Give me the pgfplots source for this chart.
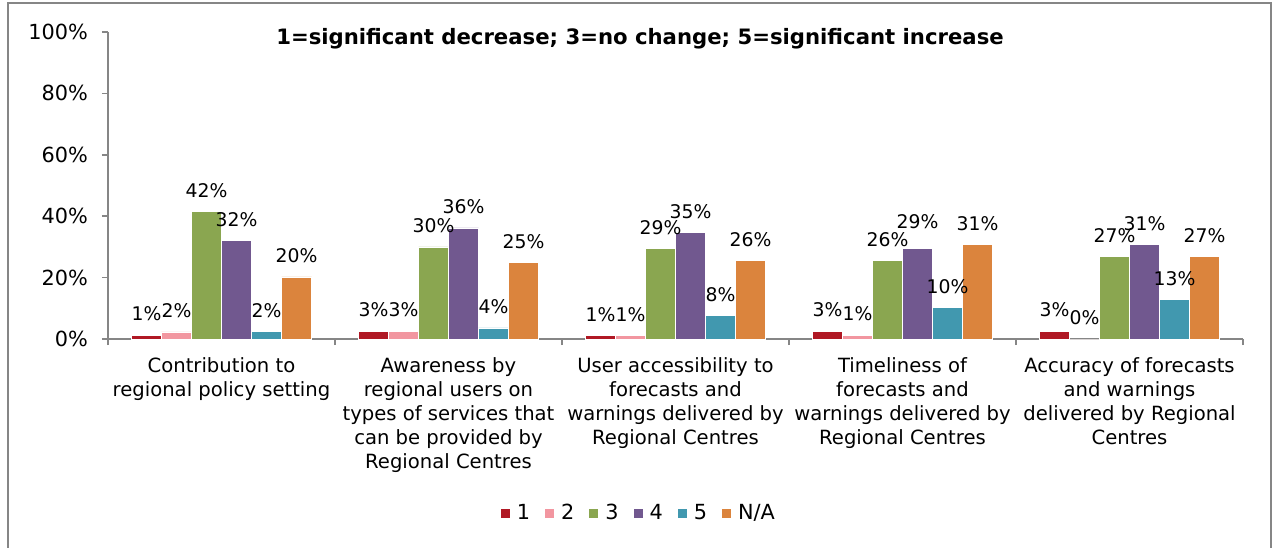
\documentclass[border=0pt]{standalone}
\usepackage{pgfplots}
\usepackage{pgfplotstable}
\pgfplotsset{compat=1.18}
\usepackage{fontspec}
\setmainfont{DejaVu Sans}
\definecolor{c1}{RGB}{176,24,36}
\definecolor{c2}{RGB}{242,150,160}
\definecolor{c3}{RGB}{138,166,80}
\definecolor{c4}{RGB}{113,88,143}
\definecolor{c5}{RGB}{65,152,175}
\definecolor{c6}{RGB}{219,132,61}
\definecolor{axisgray}{RGB}{134,134,134}
\newcommand\cf{\fontsize{9.8}{12}\selectfont}
\newcommand\lf{\fontsize{10.4}{12}\selectfont}
\newcommand\df{\fontsize{9.4}{12}\selectfont}

% share of answers per category (%), columns = rating 1..5 and N/A
\pgfplotstableread{
x s1  s2  s3   s4   s5   s6
0 1.3 2.3 41.5 32.0 2.4  20.2
1 2.6 2.6 30.0 36.2 3.6  25.0
2 1.2 1.2 29.4 34.6 7.6  25.6
3 2.6 1.3 25.6 29.4 10.2 30.8
4 2.6 0   26.8 30.8 12.9 26.8
}\datatable

\begin{document}
\begin{tikzpicture}
\path[use as bounding box] (-54pt,-104pt) rectangle (583pt,169.5pt);
\draw[axisgray, line width=1pt] (-50pt,-120pt) -- (-50pt,168pt) -- (581.5pt,168pt) -- (581.5pt,-120pt);
\begin{axis}[
    at={(0,0)}, anchor=south west,
    scale only axis,
    width=567.5pt, height=153.5pt,
    ybar=0pt, bar width=15pt,
    xmin=-0.5, xmax=4.5,
    ymin=0, ymax=100,
    enlargelimits=false,
    clip=false,
    axis x line*=bottom, axis y line*=left,
    axis line style={draw=axisgray, line width=0.75pt, -},
    tick align=outside,
    tick style={axisgray, line width=0.75pt},
    major tick length=3pt, minor tick length=3pt,
    major x tick style={draw=none},
    xtick={0,1,2,3,4},
    minor xtick={-0.5,0.5,1.5,2.5,3.5,4.5},
    xticklabels={
        {Contribution to\\regional policy setting},
        {Awareness by\\regional users on\\types of services that\\can be provided by\\Regional Centres},
        {User accessibility to\\forecasts and\\warnings delivered by\\Regional Centres},
        {Timeliness of\\forecasts and\\warnings delivered by\\Regional Centres},
        {Accuracy of forecasts\\and warnings\\delivered by Regional\\Centres}},
    xticklabel style={align=center, font=\cf, anchor=north, yshift=-3pt},
    ytick={0,20,40,60,80,100},
    yticklabels={0\%,20\%,40\%,60\%,80\%,100\%},
    yticklabel style={font=\lf, xshift=-3.5pt},
    every axis plot/.append style={draw=white, line width=0.3pt},
    nodes near coords={\pgfmathprintnumber[fixed,precision=0,assume math mode=true]{\pgfplotspointmeta}\%},
    nodes near coords style={font=\df, black, anchor=south, inner xsep=0pt, yshift=3.5pt},
    legend columns=-1,
    legend style={at={(0.4687,-0.567)}, anchor=center, draw=none, font=\lf,
        /tikz/every odd column/.append style={column sep=1.5pt},
        /tikz/every even column/.append style={column sep=5.5pt}},
    legend image code/.code={\fill[#1,draw=none] (0pt,-2.25pt) rectangle (4.5pt,2.25pt);},
]
\addplot[fill=c1] table[x=x, y=s1] {\datatable};
\addplot[fill=c2] table[x=x, y=s2] {\datatable};
\addplot[fill=c3] table[x=x, y=s3] {\datatable};
\addplot[fill=c4, coordinate style/.condition={x==3}{yshift=3pt}] table[x=x, y=s4] {\datatable};
\addplot[fill=c5] table[x=x, y=s5] {\datatable};
\addplot[fill=c6] table[x=x, y=s6] {\datatable};
\legend{1,2,3,4,5,N/A}
\node[font=\bfseries\fontsize{10.6}{12}\selectfont] at (axis description cs:0.4687,0.977) {1=significant decrease; 3=no change; 5=significant increase};
\end{axis}
\end{tikzpicture}
\end{document}
